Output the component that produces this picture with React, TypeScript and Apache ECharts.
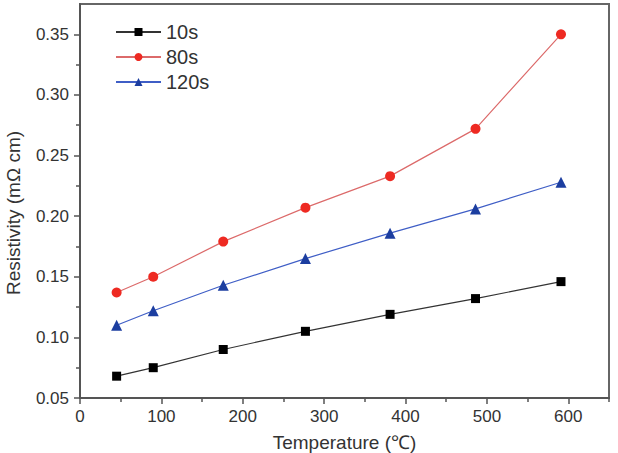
import React, { useEffect, useRef } from "react";
import * as echarts from "echarts";

// Measured resistivity vs. annealing temperature for three deposition times
const temperatures = [45, 90, 176, 277, 381, 486, 591];
const resistivity10s = [0.068, 0.075, 0.09, 0.105, 0.119, 0.132, 0.146];
const resistivity80s = [0.137, 0.15, 0.179, 0.207, 0.233, 0.272, 0.35];
const resistivity120s = [0.11, 0.122, 0.143, 0.165, 0.186, 0.206, 0.228];

const seriesNames = ["10s", "80s", "120s"];

// Axis tick positions
const xMajorTicks = [0, 100, 200, 300, 400, 500, 600];
const xMinorTicks = [50, 150, 250, 350, 450, 550, 650];
const yMajorTicks = [0.05, 0.1, 0.15, 0.2, 0.25, 0.3, 0.35];
const yMinorTicks = [0.075, 0.125, 0.175, 0.225, 0.275, 0.325];

const FONT = "'Liberation Sans', Arial, Helvetica, sans-serif";
const AXIS_COLOR = "#555";

function pairs(xs: number[], ys: number[]) {
  return xs.map((x, i) => [x, ys[i]]);
}

export default function App() {
  const ref = useRef<HTMLDivElement>(null);

  useEffect(() => {
    if (!ref.current) return;
    const chart = echarts.init(ref.current, null, { renderer: "svg" });

    const baseX = { type: "value" as const, min: 0, max: 650, position: "bottom" as const, splitLine: { show: false } };
    const baseY = { type: "value" as const, min: 0.05, max: 0.375, position: "left" as const, splitLine: { show: false } };

    chart.setOption({
      animation: false,
      backgroundColor: "#fff",
      grid: {
        left: 80,
        right: 9,
        top: 4,
        bottom: 55,
        outerBoundsMode: "none",
        containLabel: false,
        show: true,
        borderColor: "#666",
        borderWidth: 2,
      },
      legend: {
        orient: "vertical",
        left: 110,
        top: 17,
        itemWidth: 45,
        itemHeight: 10,
        itemGap: 5,
        textStyle: { fontFamily: FONT, fontSize: 20, color: "#333", lineHeight: 19 },
        data: seriesNames,
      },
      xAxis: [
        {
          ...baseX,
          name: "Temperature (℃)",
          nameLocation: "middle",
          nameGap: 35,
          nameTextStyle: { fontFamily: FONT, fontSize: 19, lineHeight: 19, color: "#333" },
          axisLine: { show: true, lineStyle: { color: AXIS_COLOR, width: 2 } },
          axisTick: { show: true, inside: false, length: 6, customValues: xMajorTicks, lineStyle: { color: AXIS_COLOR, width: 1.5 } },
          axisLabel: { customValues: xMajorTicks, margin: 10, fontFamily: FONT, fontSize: 17, color: "#333" },
        },
        {
          ...baseX,
          axisLine: { show: false },
          axisTick: { show: true, inside: false, length: 4, customValues: xMinorTicks, lineStyle: { color: AXIS_COLOR, width: 1.5 } },
          axisLabel: { show: false },
        },
      ],
      yAxis: [
        {
          ...baseY,
          name: "Resistivity (mΩ cm)",
          nameLocation: "middle",
          nameGap: 57,
          nameTextStyle: { fontFamily: FONT, fontSize: 19, color: "#333", padding: [0, 24, 0, 0] },
          axisLine: { show: true, lineStyle: { color: AXIS_COLOR, width: 2 } },
          axisTick: { show: true, inside: false, length: 6, customValues: yMajorTicks, lineStyle: { color: AXIS_COLOR, width: 1.5 } },
          axisLabel: {
            customValues: yMajorTicks,
            margin: 11,
            fontFamily: FONT,
            fontSize: 17,
            color: "#333",
            formatter: (v: number) => v.toFixed(2),
          },
        },
        {
          ...baseY,
          axisLine: { show: false },
          axisTick: { show: true, inside: false, length: 4, customValues: yMinorTicks, lineStyle: { color: AXIS_COLOR, width: 1.5 } },
          axisLabel: { show: false },
        },
      ],
      series: [
        {
          name: seriesNames[0],
          type: "line",
          xAxisIndex: 0,
          yAxisIndex: 0,
          data: pairs(temperatures, resistivity10s),
          symbol: "rect",
          symbolSize: 9,
          itemStyle: { color: "#000" },
          lineStyle: { color: "#333", width: 1.2 },
        },
        {
          name: seriesNames[1],
          type: "line",
          xAxisIndex: 0,
          yAxisIndex: 0,
          data: pairs(temperatures, resistivity80s),
          symbol: "circle",
          symbolSize: 10,
          itemStyle: { color: "#ee2a22" },
          lineStyle: { color: "#dc6a6a", width: 1.2 },
        },
        {
          name: seriesNames[2],
          type: "line",
          xAxisIndex: 0,
          yAxisIndex: 0,
          data: pairs(temperatures, resistivity120s),
          symbol: "triangle",
          symbolSize: 11,
          itemStyle: { color: "#1c3ea0" },
          lineStyle: { color: "#3f5ec6", width: 1.2 },
        },
      ],
    });

    return () => chart.dispose();
  }, []);

  return <div ref={ref} style={{ width: 618, height: 453, position: "absolute", left: 0, top: 0 }} />;
}
